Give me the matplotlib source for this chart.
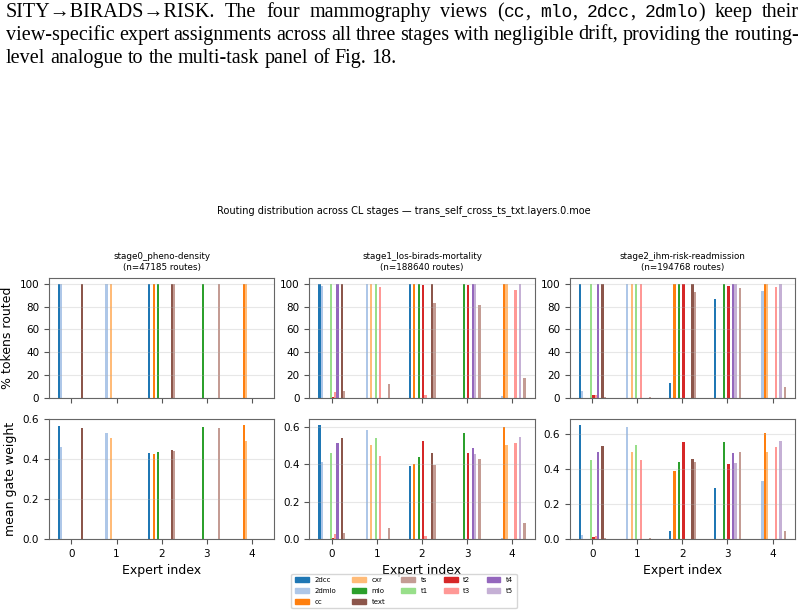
import matplotlib
matplotlib.use("Agg")
import matplotlib.pyplot as plt
from matplotlib.patches import Patch
import numpy as np

modalities = ['2dcc', '2dmlo', 'cc', 'cxr', 'mlo', 't1', 't2', 't3', 't4', 't5', 'text', 'ts']
legend_order = ['2dcc', '2dmlo', 'cc', 'cxr', 'mlo', 'text', 'ts', 't1', 't2', 't3', 't4', 't5']
experts = [0, 1, 2, 3, 4]

stage_names = ['stage0_pheno-density', 'stage1_los-birads-mortality', 'stage2_ihm-risk-readmission']
stage_routes = [47185, 188640, 194768]

# rows follow `modalities`, columns are experts 0..4
s0_pct = [
    [100, 0, 100, 0, 0],     # 2dcc
    [100, 100, 0, 0, 0],     # 2dmlo
    [0, 0, 100, 0, 100],     # cc
    [0, 100, 0, 0, 100],     # cxr
    [0, 0, 100, 100, 0],     # mlo
    [0, 0, 0, 0, 0],         # t1
    [0, 0, 0, 0, 0],         # t2
    [0, 0, 0, 0, 0],         # t3
    [0, 0, 0, 0, 0],         # t4
    [0, 0, 0, 0, 0],         # t5
    [100, 0, 100, 0, 0],     # text
    [0, 0, 100, 100, 0],     # ts
]
s0_gate = [
    [0.565, 0, 0.43, 0, 0],
    [0.46, 0.53, 0, 0, 0],
    [0, 0, 0.425, 0, 0.572],
    [0, 0.505, 0, 0, 0.49],
    [0, 0, 0.435, 0.56, 0],
    [0, 0, 0, 0, 0],
    [0, 0, 0, 0, 0],
    [0, 0, 0, 0, 0],
    [0, 0, 0, 0, 0],
    [0, 0, 0, 0, 0],
    [0.555, 0, 0.445, 0, 0],
    [0, 0, 0.44, 0.555, 0],
]

s1_pct = [
    [100, 0, 100, 0, 0],
    [98, 100, 0, 0, 1.5],
    [0, 0, 100, 0, 100],
    [0, 100, 0, 0, 100],
    [0, 0, 100, 100, 0],
    [100, 100, 0, 0, 0],
    [1, 0.4, 99, 99, 0.4],
    [5, 97, 3, 0, 94.5],
    [100, 0, 0, 100, 0],
    [0, 0, 0, 100, 100],
    [100, 0, 100, 0, 0],
    [6, 12, 83, 81, 17.5],
]
s1_gate = [
    [0.61, 0, 0.39, 0, 0],
    [0.41, 0.58, 0, 0, 0.005],
    [0, 0, 0.40, 0, 0.60],
    [0, 0.50, 0, 0, 0.50],
    [0, 0, 0.435, 0.565, 0],
    [0.46, 0.54, 0, 0, 0],
    [0.005, 0.002, 0.525, 0.46, 0.002],
    [0.025, 0.445, 0.015, 0, 0.51],
    [0.51, 0, 0, 0.485, 0],
    [0, 0, 0, 0.455, 0.545],
    [0.54, 0, 0.46, 0, 0],
    [0.03, 0.06, 0.395, 0.425, 0.085],
]

s2_pct = [
    [100, 0, 13, 87, 0],
    [6, 100, 0, 0, 94],
    [0, 0, 100, 0, 100],
    [0, 100, 0, 0, 100],
    [0, 0, 100, 100, 0],
    [100, 100, 0, 0, 0],
    [2.5, 0, 99.5, 98, 0],
    [2.5, 100, 0, 0, 97],
    [100, 0, 0, 100, 0],
    [0, 0, 0, 100, 100],
    [100, 0, 100, 0, 0],
    [1, 0.5, 92.5, 96, 9.5],
]
s2_gate = [
    [0.655, 0, 0.045, 0.295, 0],
    [0.025, 0.64, 0, 0, 0.335],
    [0, 0, 0.39, 0, 0.605],
    [0, 0.50, 0, 0, 0.50],
    [0, 0, 0.44, 0.555, 0],
    [0.455, 0.54, 0, 0, 0],
    [0.01, 0, 0.555, 0.43, 0],
    [0.015, 0.455, 0, 0, 0.525],
    [0.50, 0, 0, 0.495, 0],
    [0, 0, 0, 0.435, 0.56],
    [0.535, 0, 0.46, 0, 0],
    [0.005, 0.003, 0.44, 0.50, 0.045],
]

pct_data = [s0_pct, s1_pct, s2_pct]
gate_data = [s0_gate, s1_gate, s2_gate]

paper_lines = [
    "SITY\u2192BIRADS\u2192RISK. The four mammography views (`cc`, `mlo`, `2dcc`, `2dmlo`) keep their",
    "view-specific expert assignments across all three stages with negligible drift, providing the routing-",
    "level analogue to the multi-task panel of Fig. 18.",
]

W, H = 808, 615
fig = plt.figure(figsize=(W / 100, H / 100), dpi=100)

# ---- paper text above the figure (justified like in the pdf) ----
serif = ['Liberation Serif', 'DejaVu Serif']
mono = ['Liberation Mono', 'DejaVu Sans Mono']
fs_serif = 14.5
fs_mono = 13
renderer = fig.canvas.get_renderer()


def seg_width(s, fam):
    fs = fs_mono if fam is mono else fs_serif
    t = fig.text(0, 0, s, fontsize=fs, family=fam)
    w = t.get_window_extent(renderer).width
    t.remove()
    return w


x_left, x_right = 6, 799
baselines = [17, 40, 63]
space_w = seg_width("a a", serif) - seg_width("aa", serif)
for li, line in enumerate(paper_lines):
    words = []
    for word in line.split(" "):
        parts = word.split("`")
        segs = [(p, mono if k % 2 else serif) for k, p in enumerate(parts) if p]
        words.append(segs)
    widths = [sum(seg_width(s, f) for s, f in w) for w in words]
    if li < len(paper_lines) - 1:
        gap = (x_right - x_left - sum(widths)) / (len(words) - 1)
    else:
        gap = space_w
    x = x_left
    for w, ww in zip(words, widths):
        xx = x
        for s, f in w:
            fig.text(xx / W, 1 - baselines[li] / H, s, family=f,
                     fontsize=fs_mono if f is mono else fs_serif,
                     va='baseline', ha='left')
            xx += seg_width(s, f)
        x += ww + gap

# ---- chart ----
colors = plt.get_cmap('tab20').colors
color_of = {m: colors[i] for i, m in enumerate(modalities)}
bw = 0.05
x = np.arange(len(experts))

fig.text(0.5, 1 - 211 / H, "Routing distribution across CL stages \u2014 trans_self_cross_ts_txt.layers.0.moe",
         ha='center', va='center', fontsize=7)

gs = fig.add_gridspec(2, 3, left=0.0606, right=0.984, bottom=0.1236, top=0.548,
                      wspace=0.156, hspace=0.175)

for s in range(3):
    ax_top = fig.add_subplot(gs[0, s])
    ax_bot = fig.add_subplot(gs[1, s])
    for ax, data in ((ax_top, pct_data[s]), (ax_bot, gate_data[s])):
        for i, m in enumerate(modalities):
            ax.bar(x + (i - 5.5) * bw, data[i], width=bw, color=color_of[m])
        ax.set_xticks(x)
        ax.grid(axis='y', alpha=0.3)
        ax.tick_params(labelsize=7.5, color='#555555')
        ax.set_xlim(-0.5, 4.5)
        for sp in ax.spines.values():
            sp.set_color('#666666')
    ax_top.set_yticks([0, 20, 40, 60, 80, 100])
    ax_top.set_xticklabels([])
    ax_top.set_title(f"{stage_names[s]}\n(n={stage_routes[s]} routes)", fontsize=6.3)
    ax_bot.set_xlabel("Expert index", fontsize=9)
    if s == 0:
        ax_top.set_ylabel("% tokens routed", fontsize=9)
        ax_bot.set_ylabel("mean gate weight", fontsize=9)

handles = [Patch(color=color_of[m], label=m) for m in legend_order]
fig.legend(handles=handles, loc='center', bbox_to_anchor=(404 / W, 1 - 591 / H), ncol=5,
           fontsize=5, labelspacing=0.7, columnspacing=2.3, handleheight=0.6,
           borderpad=0.5)

fig.savefig("out.png", dpi=100)
